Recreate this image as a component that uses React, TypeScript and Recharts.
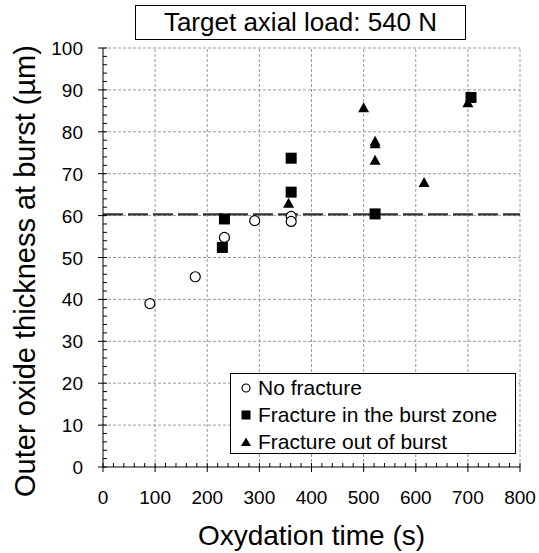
import {
  ScatterChart,
  Scatter,
  XAxis,
  YAxis,
  ReferenceLine,
} from "recharts";

// Oxydation time (s) / outer oxide thickness (µm)
const noFractureX = [90, 177, 233, 291, 361, 361];
const noFractureY = [39, 45.4, 54.8, 58.8, 59.8, 58.6];

const burstZoneX = [229, 233, 361, 361, 522, 706];
const burstZoneY = [52.4, 59.2, 73.7, 65.6, 60.4, 88.2];

const outOfBurstX = [356, 500, 522, 522, 522, 616, 700];
const outOfBurstY = [62.8, 85.6, 77.6, 77.0, 73.1, 67.8, 86.8];

const THRESHOLD = 60.3;

const X_MAJOR = [0, 100, 200, 300, 400, 500, 600, 700, 800];
const X_TICKS = Array.from({ length: 41 }, (_, i) => i * 20);
const Y_MAJOR = [0, 10, 20, 30, 40, 50, 60, 70, 80, 90, 100];
const Y_TICKS = Array.from({ length: 51 }, (_, i) => i * 2);

const FONT = "'Liberation Sans', Arial, sans-serif";

const toPoints = (xs: number[], ys: number[]) =>
  xs.map((x, i) => ({ x, y: ys[i] }));

const noFracture = toPoints(noFractureX, noFractureY);
const burstZone = toPoints(burstZoneX, burstZoneY);
const outOfBurst = toPoints(outOfBurstX, outOfBurstY);

const CircleMark = (p: any) => (
  <circle cx={p.cx} cy={p.cy} r={5} fill="#fff" stroke="#000" strokeWidth={1.2} />
);
const SquareMark = (p: any) => (
  <rect x={p.cx - 5.5} y={p.cy - 5.5} width={11} height={11} fill="#000" />
);
const TriangleMark = (p: any) => (
  <polygon
    points={`${p.cx},${p.cy - 6} ${p.cx + 5.5},${p.cy + 4} ${p.cx - 5.5},${p.cy + 4}`}
    fill="#000"
  />
);

const XTick = (props: any) => {
  const { x, y, payload } = props;
  const major = X_MAJOR.includes(payload.value);
  return (
    <g>
      {major ? (
        <>
          <line x1={x} x2={x} y1={y - 4} y2={y + 5} stroke="#000" />
          <text x={x} y={y + 37} textAnchor="middle" fontSize={19} fontFamily={FONT} fill="#000">
            {payload.value}
          </text>
        </>
      ) : (
        <line x1={x} x2={x} y1={y} y2={y - 4} stroke="#000" />
      )}
    </g>
  );
};

const YTick = (props: any) => {
  const { x, y, payload } = props;
  const major = Y_MAJOR.includes(payload.value);
  return (
    <g>
      {major ? (
        <>
          <line x1={x - 5} x2={x + 4} y1={y} y2={y} stroke="#000" />
          <text x={x - 20} y={y + 7} textAnchor="end" fontSize={19} fontFamily={FONT} fill="#000">
            {payload.value}
          </text>
        </>
      ) : (
        <line x1={x} x2={x + 4} y1={y} y2={y} stroke="#000" />
      )}
    </g>
  );
};

const legendItems = [
  { label: "No fracture", mark: "circle" },
  { label: "Fracture in the burst zone", mark: "square" },
  { label: "Fracture out of burst", mark: "triangle" },
];

const LegendBox = () => (
  <div
    style={{
      position: "absolute",
      left: 230,
      top: 373,
      width: 286,
      height: 81,
      border: "1px solid #000",
      background: "#fff",
      fontFamily: FONT,
      fontSize: 21,
      color: "#000",
      boxSizing: "border-box",
      paddingTop: 0,
    }}
  >
    {legendItems.map((it) => (
      <div key={it.label} style={{ display: "flex", alignItems: "center", height: 27 }}>
        <svg width={25} height={20}>
          {it.mark === "circle" && (
            <circle cx={15} cy={10} r={4} fill="#fff" stroke="#000" strokeWidth={1.2} />
          )}
          {it.mark === "square" && <rect x={10.5} y={5.5} width={9} height={9} fill="#000" />}
          {it.mark === "triangle" && <polygon points="15,5.5 20,14 10,14" fill="#000" />}
        </svg>
        <span style={{ marginLeft: 2 }}>{it.label}</span>
      </div>
    ))}
  </div>
);

export default function App() {
  return (
    <div style={{ position: "absolute", left: 0, top: 0, width: 539, height: 553, background: "#fff" }}>
      <ScatterChart
        width={539}
        height={553}
        margin={{ top: 48, right: 19, bottom: 46, left: 43 }}
      >
        <XAxis
          type="number"
          dataKey="x"
          domain={[0, 800]}
          ticks={X_TICKS}
          interval={0}
          tickSize={0}
          tickMargin={0}
          tickLine={false}
          height={40}
          axisLine={{ stroke: "#000" }}
          tick={<XTick />}
        />
        <YAxis
          type="number"
          dataKey="y"
          domain={[0, 100]}
          ticks={Y_TICKS}
          interval={0}
          tickSize={0}
          tickMargin={0}
          tickLine={false}
          width={60}
          axisLine={{ stroke: "#000" }}
          tick={<YTick />}
        />
        {X_MAJOR.slice(1).map((v) => (
          <ReferenceLine key={`gx${v}`} x={v} stroke="#9a9a9a" strokeDasharray="3 2" />
        ))}
        {Y_MAJOR.slice(1).map((v) => (
          <ReferenceLine key={`gy${v}`} y={v} stroke="#9a9a9a" strokeDasharray="3 2" />
        ))}
        <ReferenceLine y={THRESHOLD} stroke="#333" strokeWidth={2.2} strokeDasharray="20 5" />
        <Scatter name="No fracture" data={noFracture} shape={CircleMark} isAnimationActive={false} />
        <Scatter name="Fracture in the burst zone" data={burstZone} shape={SquareMark} isAnimationActive={false} />
        <Scatter name="Fracture out of burst" data={outOfBurst} shape={TriangleMark} isAnimationActive={false} />
      </ScatterChart>
      <LegendBox />
      <div
        style={{
          position: "absolute",
          left: 135,
          top: 5,
          width: 331,
          height: 35,
          border: "1px solid #000",
          boxSizing: "border-box",
          fontFamily: FONT,
          fontSize: 26,
          lineHeight: "33px",
          textAlign: "center",
          color: "#000",
        }}
      >
        Target axial load: 540 N
      </div>
      <div
        style={{
          position: "absolute",
          left: 103,
          width: 417,
          top: 520,
          textAlign: "center",
          fontFamily: FONT,
          fontSize: 28,
          color: "#000",
        }}
      >
        Oxydation time (s)
      </div>
      <div
        style={{
          position: "absolute",
          left: 25,
          top: 271,
          width: 0,
          height: 0,
        }}
      >
        <div
          style={{
            position: "absolute",
            transform: "translate(-50%, -50%) rotate(-90deg)",
            whiteSpace: "nowrap",
            fontFamily: FONT,
            fontSize: 29,
            color: "#000",
          }}
        >
          Outer oxide thickness at burst (µm)
        </div>
      </div>
    </div>
  );
}
